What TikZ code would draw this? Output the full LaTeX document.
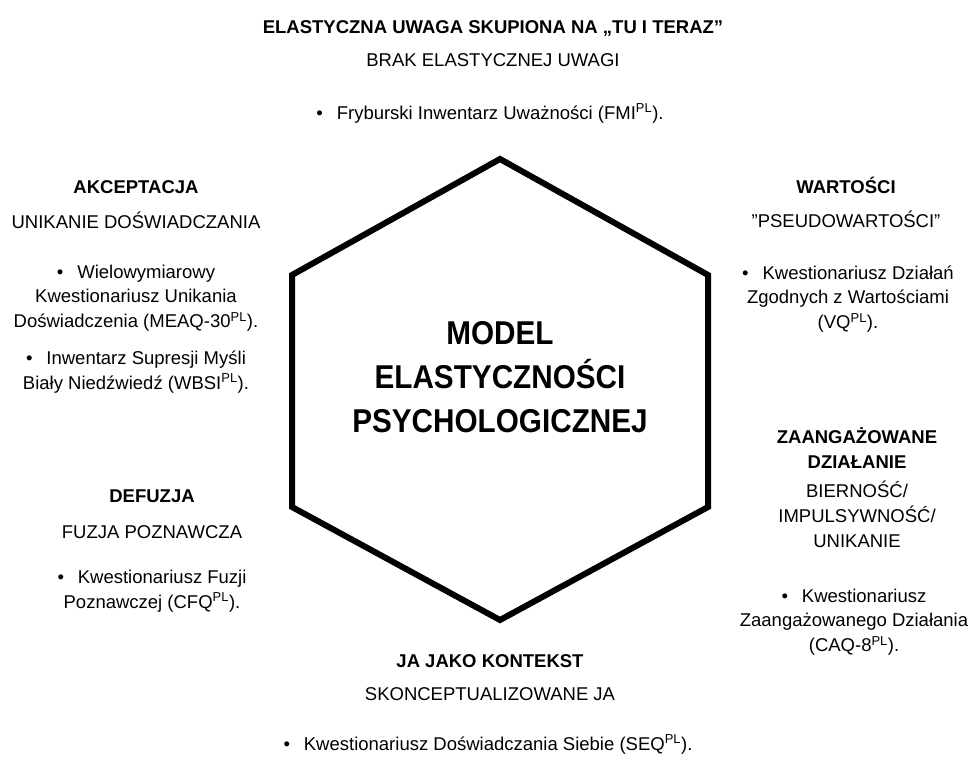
\documentclass[tikz,border=0pt]{standalone}
\usepackage{fontspec}
\setmainfont{Liberation Sans}
\newfontfamily\titlefont[FakeStretch=0.9]{Liberation Sans}
\newcommand{\blt}{•\hspace{0.75em}}
\newcommand{\plsup}{\textsuperscript{PL}}
\begin{document}
\begin{tikzpicture}[x=1pt,y=-1pt,
  headtxt/.style={font=\fontsize{18.5}{24.5}\selectfont\bfseries, align=center, inner sep=0pt},
  subtxt/.style={font=\fontsize{18.5}{25}\selectfont, align=center, inner sep=0pt},
  itemtxt/.style={font=\fontsize{18.5}{24.5}\selectfont, align=center, inner sep=0pt},
  titletxt/.style={font=\titlefont\bfseries\fontsize{33}{44}\selectfont, align=center, inner sep=0pt},
  hexline/.style={line width=6pt, line join=miter}]
\useasboundingbox (0,0) rectangle (977,761);

% hexagon
\coordinate (h1) at (500,159);
\coordinate (h2) at (708,275);
\coordinate (h3) at (708,507);
\coordinate (h4) at (500,620);
\coordinate (h5) at (292,507);
\coordinate (h6) at (292,275);
\draw[hexline] (h1) -- (h2) -- (h3) -- (h4) -- (h5) -- (h6) -- cycle;
\node[titletxt] (model) at (500,377) {MODEL\\ELASTYCZNOŚCI\\PSYCHOLOGICZNEJ};

% top
\node[headtxt, anchor=base] (uwagaH) at (493,33) {ELASTYCZNA UWAGA SKUPIONA NA „TU I TERAZ”};
\node[subtxt, anchor=base] (uwagaS) at (493,66) {BRAK ELASTYCZNEJ UWAGI};
\node[itemtxt, anchor=base] (uwagaI) at (490,119) {\blt Fryburski Inwentarz Uważności (FMI\plsup).};

% left top
\node[headtxt, anchor=base] (akcH) at (136,193) {AKCEPTACJA};
\node[subtxt, anchor=base] (akcS) at (136,228) {UNIKANIE DOŚWIADCZANIA};
\node[itemtxt] (akcI1) at (136,298) {\blt Wielowymiarowy\\Kwestionariusz Unikania\\Doświadczenia (MEAQ-30\plsup).};
\node[itemtxt] (akcI2) at (136,372) {\blt Inwentarz Supresji Myśli\\Biały Niedźwiedź (WBSI\plsup).};

% right top
\node[headtxt, anchor=base] (wartH) at (846,193) {WARTOŚCI};
\node[subtxt, anchor=base] (wartS) at (846,227) {”PSEUDOWARTOŚCI”};
\node[itemtxt] (wartI) at (848,299) {\blt Kwestionariusz Działań\\Zgodnych z Wartościami\\(VQ\plsup).};

% right bottom
\node[headtxt] (zaH) at (857,448) {ZAANGAŻOWANE\\DZIAŁANIE};
\node[subtxt] (zaS) at (857,514) {BIERNOŚĆ/\\IMPULSYWNOŚĆ/\\UNIKANIE};
\node[itemtxt] (zaI) at (854,622) {\blt Kwestionariusz\\Zaangażowanego Działania\\(CAQ-8\plsup).};

% left bottom
\node[headtxt, anchor=base] (defH) at (152,502) {DEFUZJA};
\node[subtxt, anchor=base] (defS) at (152,538) {FUZJA POZNAWCZA};
\node[itemtxt] (defI) at (152,591) {\blt Kwestionariusz Fuzji\\Poznawczej (CFQ\plsup).};

% bottom
\node[headtxt, anchor=base] (jaH) at (490,667) {JA JAKO KONTEKST};
\node[subtxt, anchor=base] (jaS) at (490,700) {SKONCEPTUALIZOWANE JA};
\node[itemtxt, anchor=base] (jaI) at (488,750) {\blt Kwestionariusz Doświadczania Siebie (SEQ\plsup).};
\end{tikzpicture}
\end{document}
